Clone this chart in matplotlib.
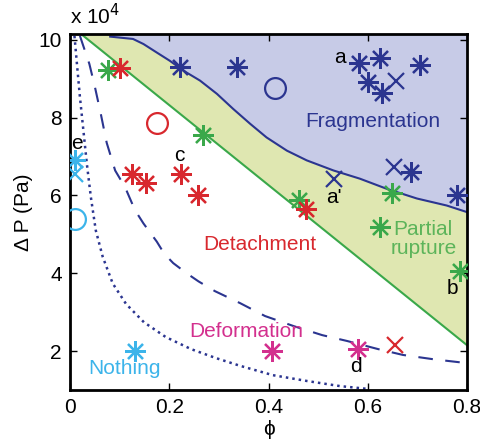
import numpy as np
import matplotlib
matplotlib.use("Agg")
import matplotlib.pyplot as plt
from matplotlib.ticker import FuncFormatter

plt.rcParams["font.family"] = ["Liberation Sans", "DejaVu Sans"]

SCALE = 1e4  # pressures below are in units of 10^4 Pa

NAVY = "#2b3590"
LAVENDER = "#c7cbe7"
GREEN = "#3aa84a"
GREEN_FILL = "#dfe7b1"
RED = "#d8282e"
MAGENTA = "#d3308e"
CYAN = "#3cb4ea"

# boundary curves
frag_phi = [0.081, 0.127, 0.148, 0.175, 0.201, 0.228, 0.262, 0.296, 0.329,
            0.363, 0.396, 0.437, 0.477, 0.531, 0.584, 0.638, 0.699, 0.759,
            0.80]
frag_dp = [10.08, 10.02, 9.89, 9.67, 9.46, 9.21, 8.95, 8.61, 8.22, 7.84,
           7.49, 7.15, 6.90, 6.64, 6.43, 6.17, 5.92, 5.74, 5.57]

rupt_phi = [0.024, 0.80]
rupt_dp = [10.13, 2.15]

dash_phi = [0.020, 0.039, 0.050, 0.062, 0.074, 0.091, 0.111, 0.131, 0.148,
            0.175, 0.190, 0.208, 0.235, 0.259, 0.292, 0.343, 0.393, 0.451,
            0.508, 0.558, 0.621, 0.671, 0.732, 0.80]
dash_dp = [10.10, 9.38, 8.80, 8.10, 7.35, 6.64, 6.21, 5.62, 5.28, 4.81,
           4.50, 4.26, 4.00, 3.79, 3.54, 3.23, 2.90, 2.64, 2.41, 2.26, 2.05,
           1.90, 1.79, 1.69]

dot_phi = [0.009, 0.014, 0.020, 0.027, 0.034, 0.042, 0.052, 0.066, 0.086,
           0.113, 0.149, 0.193, 0.244, 0.294, 0.343, 0.409, 0.478, 0.544,
           0.598]
dot_dp = [10.10, 9.38, 8.53, 7.67, 6.81, 5.96, 5.10, 4.42, 3.74, 3.21, 2.74,
          2.36, 2.05, 1.82, 1.62, 1.38, 1.23, 1.10, 1.03]

# experiments
frag_star_phi = [0.222, 0.336, 0.582, 0.625, 0.705, 0.600, 0.629, 0.687, 0.780]
frag_star_dp = [9.31, 9.30, 9.41, 9.54, 9.36, 8.92, 8.64, 6.59, 6.00]
frag_x_phi = [0.657, 0.653, 0.532]
frag_x_dp = [8.95, 6.74, 6.43]
frag_o_phi = [0.413]
frag_o_dp = [8.77]

part_star_phi = [0.077, 0.268, 0.461, 0.649, 0.625, 0.786]
part_star_dp = [9.23, 7.54, 5.87, 6.05, 5.18, 4.05]

det_star_phi = [0.101, 0.125, 0.153, 0.224, 0.258, 0.476]
det_star_dp = [9.28, 6.54, 6.31, 6.56, 6.00, 5.64]
det_o_phi = [0.175]
det_o_dp = [7.85]
det_x_phi = [0.655]
det_x_dp = [2.15]

def_star_phi = [0.407, 0.580]
def_star_dp = [2.00, 2.05]

noth_star_phi = [0.010, 0.131]
noth_star_dp = [6.90, 2.00]
noth_x_phi = [0.010]
noth_x_dp = [6.56]
noth_o_phi = [0.010]
noth_o_dp = [5.40]

Y_TOP = 10.15
Y_BOT = 1.0


def pa(values):
    return np.asarray(values) * SCALE


fig = plt.figure(figsize=(4.81, 4.46), dpi=100)
ax = fig.add_axes([0.1455, 0.1256, 0.8255, 0.7984])

# shaded regions
blue_x = frag_phi + [frag_phi[-1], frag_phi[0]]
blue_y = frag_dp + [Y_TOP, Y_TOP]
ax.fill(blue_x, pa(blue_y), color=LAVENDER, lw=0, zorder=1)

green_x = rupt_phi + frag_phi[::-1] + [frag_phi[0], rupt_phi[0]]
green_y = rupt_dp + frag_dp[::-1] + [Y_TOP, Y_TOP]
ax.fill(green_x, pa(green_y), color=GREEN_FILL, lw=0, zorder=1)

# boundaries
ax.plot(frag_phi, pa(frag_dp), color=NAVY, lw=1.5, zorder=2)
ax.plot(rupt_phi, pa(rupt_dp), color=GREEN, lw=1.5, zorder=2)
ax.plot(dash_phi, pa(dash_dp), color=NAVY, lw=1.5, ls=(0, (7, 6)), zorder=2)
ax.plot(dot_phi, pa(dot_dp), color=NAVY, lw=1.8, ls=(0, (1, 1.6)), zorder=2)

star = (8, 2, 0)
common = dict(ls="none", mew=1.6, zorder=3)
ax.plot(frag_star_phi, pa(frag_star_dp), marker=star, ms=15, color=NAVY, **common)
ax.plot(frag_x_phi, pa(frag_x_dp), marker="x", ms=11, color=NAVY, **common)
ax.plot(frag_o_phi, pa(frag_o_dp), marker="o", ms=15, mfc="none", color=NAVY, **common)

ax.plot(part_star_phi, pa(part_star_dp), marker=star, ms=15, color=GREEN, **common)

ax.plot(det_star_phi, pa(det_star_dp), marker=star, ms=15, color=RED, **common)
ax.plot(det_o_phi, pa(det_o_dp), marker="o", ms=15, mfc="none", color=RED, **common)
ax.plot(det_x_phi, pa(det_x_dp), marker="x", ms=11, color=RED, **common)

ax.plot(def_star_phi, pa(def_star_dp), marker=star, ms=15, color=MAGENTA, **common)

ax.plot(noth_star_phi, pa(noth_star_dp), marker=star, ms=15, color=CYAN, **common)
ax.plot(noth_x_phi, pa(noth_x_dp), marker="x", ms=11, color=CYAN, **common)
ax.plot(noth_o_phi, pa(noth_o_dp), marker="o", ms=15, mfc="none", color=CYAN, **common)

# region names
fs = 15
ax.text(0.611, pa(7.9), "Fragmentation", color=NAVY, fontsize=fs,
        ha="center", va="center", zorder=4)
ax.text(0.712, pa(4.87), "Partial\nrupture", color="#5cb45a", fontsize=fs,
        ha="center", va="center", linespacing=1.0, zorder=4)
ax.text(0.383, pa(4.74), "Detachment", color=RED, fontsize=fs,
        ha="center", va="center", zorder=4)
ax.text(0.355, pa(2.51), "Deformation", color=MAGENTA, fontsize=fs,
        ha="center", va="center", zorder=4)
ax.text(0.11, pa(1.55), "Nothing", color=CYAN, fontsize=fs,
        ha="center", va="center", zorder=4)

# sample letters
letters = ["a", "a'", "b", "c", "d", "e"]
letter_phi = [0.544, 0.532, 0.770, 0.220, 0.576, 0.014]
letter_dp = [9.54, 5.95, 3.62, 7.03, 1.60, 7.33]
for s, lx, ly in zip(letters, letter_phi, letter_dp):
    ax.text(lx, pa(ly), s, fontsize=fs, ha="center", va="center", zorder=4)

ax.set_xlim(0, 0.8)
ax.set_ylim(pa(Y_BOT), pa(Y_TOP))
ax.set_xticks([0, 0.2, 0.4, 0.6, 0.8])
ax.set_xticklabels(["0", "0.2", "0.4", "0.6", "0.8"])
ax.set_yticks(pa([2, 4, 6, 8, 10]))
ax.yaxis.set_major_formatter(FuncFormatter(lambda v, p: "%d" % round(v / SCALE)))
ax.tick_params(direction="in", top=True, right=True, length=5, width=1,
               labelsize=fs, pad=6)
for sp in ax.spines.values():
    sp.set_linewidth(2)

ax.set_xlabel("\u03d5", fontsize=fs, labelpad=2)
ax.set_ylabel("\u0394 P (Pa)", fontsize=fs, labelpad=4)
ax.text(0.0, 1.015, "x 10$^4$", transform=ax.transAxes, fontsize=fs,
        ha="left", va="bottom")

fig.savefig("out.png", dpi=100)
